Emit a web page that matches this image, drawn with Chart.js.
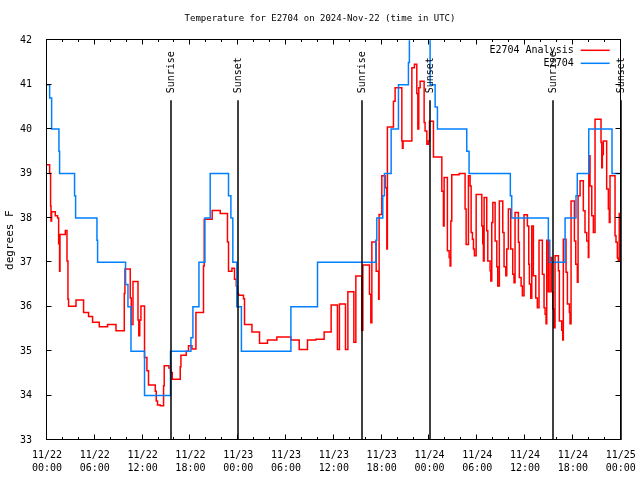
<!DOCTYPE html>
<html>
<head>
<meta charset="utf-8">
<script src="https://cdn.jsdelivr.net/npm/chart.js@4.4.1/dist/chart.umd.min.js"></script>
<style>
  html, body { margin: 0; padding: 0; background: #fff; overflow: hidden; }
  canvas { display: block; }
</style>
</head>
<body>
<canvas id="chart" width="640" height="480" style="width:640px;height:480px"></canvas>
<script>
// hours since 11/22 00:00 UTC
var xTickLabels = [
    ['11/22', '00:00'], ['11/22', '06:00'], ['11/22', '12:00'], ['11/22', '18:00'],
    ['11/23', '00:00'], ['11/23', '06:00'], ['11/23', '12:00'], ['11/23', '18:00'],
    ['11/24', '00:00'], ['11/24', '06:00'], ['11/24', '12:00'], ['11/24', '18:00'],
    ['11/25', '00:00']
];

var seriesNames = ['E2704 Analysis', 'E2704'];
var seriesColors = ['#ff0000', '#0080ff'];

var sunHours = [15.5, 23.91, 39.59, 48.04, 63.55, 72.0];
var sunLabels = ['Sunrise', 'Sunset', 'Sunrise', 'Sunset', 'Sunrise', 'Sunset'];

var analysisHours = [
    0, 0.33, 0.45, 0.5, 0.58, 1.04, 1.33, 1.46, 1.58, 1.63,
    2.3, 2.51, 2.63, 2.71, 3.64, 4.59, 5.22, 5.72, 6.56, 7.6,
    8.66, 9.7, 9.78, 10.45, 10.57, 10.79, 11.42, 11.52, 11.64, 11.79,
    12.24, 12.54, 12.74, 13.59, 13.71, 13.87, 14.21, 14.63, 14.71, 15.3,
    15.5, 15.72, 16.72, 16.81, 17.47, 17.76, 18.19, 18.69, 19.64, 19.73,
    20.73, 21.74, 22.65, 22.78, 23.21, 23.53, 23.75, 23.91, 24.03, 24.66,
    24.79, 25.72, 26.67, 27.67, 28.85, 30.61, 31.65, 32.69, 33.74, 34.78,
    35.66, 36.45, 36.7, 37.46, 37.76, 38.51, 38.76, 39.51, 39.64, 40.47,
    40.64, 40.77, 41.31, 41.62, 41.68, 42.02, 42.44, 42.65, 42.72, 43.48,
    43.69, 44.53, 44.61, 44.69, 45.79, 46.11, 46.41, 46.54, 46.66, 46.83,
    47.33, 47.45, 47.67, 47.87, 48.0, 48.5, 49.55, 49.75, 49.84, 50.25,
    50.47, 50.59, 50.68, 50.8, 51.72, 52.47, 52.6, 52.89, 53.1, 53.23,
    53.39, 53.52, 53.64, 53.86, 54.57, 54.69, 54.77, 54.86, 55.19, 55.32,
    55.61, 55.7, 55.82, 55.95, 56.24, 56.45, 56.57, 56.77, 57.2, 57.36,
    57.58, 57.7, 57.9, 58.2, 58.45, 58.61, 58.74, 59.16, 59.28, 59.5,
    59.66, 59.87, 60.29, 60.46, 60.54, 60.71, 60.84, 61.04, 61.34, 61.54,
    61.75, 62.17, 62.38, 62.51, 62.63, 62.72, 62.92, 63.13, 63.34, 63.47,
    63.63, 63.76, 64.18, 64.3, 64.6, 64.73, 64.8, 65.14, 65.31, 65.56,
    65.64, 65.77, 66.19, 66.36, 66.56, 66.65, 66.9, 67.31, 67.52, 67.74,
    67.94, 68.0, 68.15, 68.37, 68.57, 68.78, 69.53, 69.62, 69.7, 69.82,
    70.24, 70.45, 70.57, 70.66, 71.29, 71.41, 71.58, 71.7, 71.82, 72
];
var analysisTemps = [
    39.2, 39.0, 38.27, 37.93, 38.14, 38.05, 38.0, 37.42, 36.8, 37.63,
    37.72, 37.03, 36.17, 36.01, 36.15, 35.87, 35.78, 35.65, 35.55, 35.6,
    35.46, 36.3, 36.85, 36.2, 35.6, 36.57, 35.7, 35.35, 35.7, 36.02,
    34.86, 34.56, 34.24, 34.1, 33.88, 33.79, 33.77, 34.22, 34.67, 34.62,
    34.52, 34.37, 34.65, 34.91, 35.0, 35.12, 35.05, 35.87, 36.92, 37.97,
    38.17, 38.1, 37.46, 36.8, 36.87, 36.62, 36.47, 36.3, 36.26, 36.18,
    35.6, 35.43, 35.18, 35.25, 35.32, 35.25, 35.04, 35.25, 35.27, 35.43,
    36.04, 35.04, 36.06, 35.04, 36.34, 35.2, 36.69, 35.47, 36.94, 36.28,
    35.64, 37.46, 36.8, 36.17, 38.08, 38.95, 38.68, 37.3, 40.05, 40.63,
    40.93, 39.73, 39.57, 39.73, 41.38, 41.46, 40.8, 40.0, 40.93, 41.08,
    40.15, 39.96, 39.66, 39.73, 40.18, 39.37, 38.6, 37.82, 38.91, 37.26,
    37.11, 36.92, 37.93, 38.97, 39.0, 38.2, 37.4, 38.95, 38.72, 37.67,
    37.52, 37.3, 37.15, 38.53, 37.82, 37.42, 37.03, 38.46, 37.71, 37.03,
    36.81, 36.58, 37.9, 38.35, 37.48, 36.9, 36.47, 38.38, 37.67, 36.9,
    36.7, 37.3, 38.2, 37.3, 36.73, 36.54, 38.12, 37.45, 36.66, 36.47,
    36.25, 38.07, 37.82, 36.96, 36.51, 36.19, 37.82, 36.7, 36.2, 35.98,
    37.5, 36.73, 35.98, 35.83, 35.62, 37.5, 36.34, 37.11, 36.34, 35.95,
    35.53, 37.15, 36.81, 35.68, 35.47, 35.25, 37.52, 36.78, 36.06, 35.87,
    35.62, 38.38, 37.48, 36.96, 36.55, 38.5, 38.84, 38.16, 37.67, 37.48,
    37.11, 39.4, 38.72, 38.05, 37.67, 40.22, 39.7, 39.13, 39.43, 39.73,
    38.65, 38.2, 37.9, 38.95, 37.6, 37.45, 37.1, 37.03, 38.1, 38.1
];

var sensorHours = [
    0, 0.33, 0.58, 1.5, 1.58, 3.46, 3.59, 6.27, 6.35, 9.86,
    10.16, 10.54, 12.24, 15.5, 18.06, 18.31, 19.07, 19.82, 20.48, 22.78,
    23.08, 23.32, 23.82, 24.4, 30.61, 33.95, 41.27, 41.39, 42.14, 42.35,
    43.19, 44.11, 45.36, 45.48, 48.08, 48.71, 49.0, 52.68, 52.97, 58.15,
    58.32, 62.92, 63.1, 65.02, 66.39, 66.55, 67.99, 70.91, 72
];
var sensorTemps = [
    41, 40.7, 40, 39.5, 39, 38.5, 38, 37.5, 37, 36.5,
    36, 35, 34, 35, 35.3, 36, 37, 38, 39, 38.5,
    38, 37, 36, 35, 36, 37, 37.5, 38, 38.5, 39,
    40, 41, 41.5, 42.5, 41, 40.5, 40, 39.5, 39, 38.5,
    38, 37.5, 37, 38, 38.5, 39, 40, 39, 39
];

var MONO = '"DejaVu Sans Mono", "Liberation Mono", monospace';

function toPoints(hours, temps) {
    var pts = [];
    for (var i = 0; i < hours.length; ++i) {
        pts.push({ x: hours[i], y: temps[i] });
    }
    return pts;
}

// frame, inward ticks, sunrise/sunset markers and the in-plot legend
var decorations = {
    id: 'decorations',
    afterDatasetsDraw: function (chart) {
        var ctx = chart.ctx, a = chart.chartArea;
        var x = chart.scales.x, y = chart.scales.y;
        ctx.save();
        ctx.strokeStyle = '#000';
        ctx.fillStyle = '#000';
        ctx.lineWidth = 1.5;
        ctx.font = '10px ' + MONO;
        for (var i = 0; i < sunHours.length; ++i) {
            var px = Math.round(x.getPixelForValue(sunHours[i]));
            ctx.beginPath();
            ctx.moveTo(px, a.top + 60);
            ctx.lineTo(px, a.bottom);
            ctx.stroke();
            ctx.save();
            ctx.translate(px, a.top + 53);
            ctx.rotate(-Math.PI / 2);
            ctx.textAlign = 'left';
            ctx.textBaseline = 'middle';
            ctx.fillText(sunLabels[i], 0, 0);
            ctx.restore();
        }

        // frame
        ctx.lineWidth = 1;
        var l = Math.round(a.left) - 0.5, r = Math.round(a.right) - 0.5;
        var t = Math.round(a.top) - 0.5, b = Math.round(a.bottom) - 0.5;
        ctx.strokeRect(l, t, r - l, b - t);

        // ticks pointing inward
        ctx.beginPath();
        for (var h = 0; h <= 72; h += 2) {
            var tx = Math.round(x.getPixelForValue(h)) - 0.5;
            var len = h % 6 === 0 ? 5 : 2.5;
            ctx.moveTo(tx, b); ctx.lineTo(tx, b - len);
            ctx.moveTo(tx, t); ctx.lineTo(tx, t + len);
        }
        for (var v = 33; v <= 42; v++) {
            var ty = Math.round(y.getPixelForValue(v)) - 0.5;
            ctx.moveTo(l, ty); ctx.lineTo(l + 5, ty);
            ctx.moveTo(r, ty); ctx.lineTo(r - 5, ty);
        }
        ctx.stroke();

        // legend
        ctx.textAlign = 'right';
        ctx.textBaseline = 'middle';
        for (var k = 0; k < seriesNames.length; ++k) {
            var ly = a.top + 10 + k * 13;
            ctx.fillStyle = '#000';
            ctx.fillText(seriesNames[k], a.right - 47, ly);
            ctx.strokeStyle = seriesColors[k];
            ctx.lineWidth = 1.5;
            ctx.beginPath();
            ctx.moveTo(a.right - 40, ly);
            ctx.lineTo(a.right - 11, ly);
            ctx.stroke();
        }
        ctx.restore();
    }
};

new Chart(document.getElementById('chart'), {
    type: 'line',
    data: {
        datasets: [{
            label: seriesNames[0],
            data: toPoints(analysisHours, analysisTemps),
            borderColor: seriesColors[0],
            borderWidth: 1.5,
            stepped: 'before',
            pointRadius: 0,
            order: 1
        }, {
            label: seriesNames[1],
            data: toPoints(sensorHours, sensorTemps),
            borderColor: seriesColors[1],
            borderWidth: 1.5,
            stepped: 'before',
            pointRadius: 0,
            order: 0
        }]
    },
    options: {
        responsive: false,
        animation: false,
        devicePixelRatio: 1,
        layout: { padding: 0 },
        plugins: {
            legend: { display: false },
            tooltip: { enabled: false },
            title: {
                display: true,
                text: 'Temperature for E2704 on 2024-Nov-22 (time in UTC)',
                color: '#000',
                font: { family: MONO, size: 9, weight: 'normal' },
                padding: { top: 13, bottom: 16.5 }
            }
        },
        scales: {
            x: {
                type: 'linear',
                min: 0,
                max: 72,
                grid: { display: false },
                border: { display: false },
                ticks: {
                    stepSize: 6,
                    autoSkip: false,
                    maxRotation: 0,
                    padding: 1,
                    color: '#000',
                    font: { family: MONO, size: 10, lineHeight: 1.3 },
                    callback: function (value) { return xTickLabels[value / 6]; }
                },
                afterFit: function (scale) {
                    scale.height = 40;
                    scale.paddingRight = 19.3;
                }
            },
            y: {
                min: 33,
                max: 42,
                grid: { display: false },
                border: { display: false },
                ticks: {
                    stepSize: 1,
                    padding: 7,
                    color: '#000',
                    font: { family: MONO, size: 10 }
                },
                title: {
                    display: true,
                    text: 'degrees F',
                    color: '#000',
                    font: { family: MONO, size: 11 },
                    padding: { top: 4, bottom: 0 }
                },
                afterFit: function (scale) { scale.width = 47; }
            }
        }
    },
    plugins: [decorations]
});
</script>
</body>
</html>
